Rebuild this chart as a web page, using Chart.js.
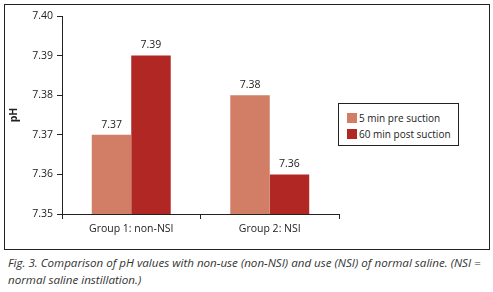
<!DOCTYPE html>
<html>
<head>
<meta charset="utf-8">
<script src="https://cdn.jsdelivr.net/npm/chart.js@4"></script>
<style>
  body{margin:0;background:#fff;width:493px;height:292px;position:relative;overflow:hidden;font-family:'Open Sans',sans-serif;}
  #frame{position:absolute;left:4px;top:4px;width:484px;height:244px;border:1px solid #222;}
  #wrap{position:absolute;left:0;top:0;width:493px;height:250px;}
  #legend{position:absolute;left:338px;top:103px;width:121px;height:43px;border:1px solid #222;background:#fff;font-size:10px;color:#222;box-sizing:border-box;padding:6px 0 0 8px;}
  #legend div{display:flex;align-items:center;height:16px;white-space:nowrap;}
  #legend span.sw{display:inline-block;width:10px;height:10px;margin-right:2px;}
  #caption{position:absolute;left:8px;top:254px;width:485px;font-style:italic;font-size:11.6px;line-height:17px;color:#333;white-space:nowrap;}
</style>
</head>
<body>
<div id="frame"></div>
<div id="wrap"><canvas id="c" width="493" height="250"></canvas></div>
<div id="legend"></div>
<div id="caption">Fig. 3. Comparison of pH values with non-use (non-NSI) and use (NSI) of normal saline. (NSI =<br>normal saline instillation.)</div>
<script>
// ---- data ----
const groups   = ['Group 1: non-NSI','Group 2: NSI'];
const preVals  = [7.37, 7.38];   // 5 min pre suction
const postVals = [7.39, 7.36];   // 60 min post suction
const yTicks   = [7.35, 7.36, 7.37, 7.38, 7.39, 7.40];

const COL_PRE  = '#d27d66';
const COL_POST = '#b02724';
const FONT = "'Open Sans', sans-serif";

const series = [
  {label:'5 min pre suction',   data:preVals,  color:COL_PRE},
  {label:'60 min post suction', data:postVals, color:COL_POST}
];

// value labels above each bar
const valueLabels = {
  id:'valueLabels',
  afterDatasetsDraw(chart){
    const ctx = chart.ctx;
    ctx.save();
    ctx.font = '10.5px '+FONT;
    ctx.fillStyle = '#222';
    ctx.textAlign = 'center';
    ctx.textBaseline = 'bottom';
    chart.data.datasets.forEach((ds,di)=>{
      chart.getDatasetMeta(di).data.forEach((bar,i)=>{
        ctx.fillText(ds.data[i].toFixed(2), bar.x, bar.y-5);
      });
    });
    ctx.restore();
  }
};

new Chart(document.getElementById('c').getContext('2d'),{
  type:'bar',
  data:{
    labels:groups,
    datasets:series.map(s=>({label:s.label,data:s.data,backgroundColor:s.color,borderWidth:0}))
  },
  options:{
    responsive:false,
    animation:false,
    layout:{padding:{left:8,top:16,right:154,bottom:0}},
    datasets:{bar:{categoryPercentage:0.57,barPercentage:1}},
    plugins:{legend:{display:false},tooltip:{enabled:false}},
    scales:{
      x:{
        grid:{display:true,drawOnChartArea:false,color:'#222',tickLength:5,offset:true},
        border:{display:true,color:'#222',width:1},
        ticks:{color:'#222',font:{family:FONT,size:10.5},padding:4},
        afterFit:s=>{ s.height = 36; }
      },
      y:{
        min:7.35, max:7.40,
        afterBuildTicks:s=>{ s.ticks = yTicks.map(v=>({value:v})); },
        grid:{display:true,drawOnChartArea:false,color:'#222',tickLength:5},
        border:{display:true,color:'#222',width:1},
        ticks:{color:'#222',font:{family:FONT,size:10.5},padding:4,callback:v=>v.toFixed(2)},
        title:{display:true,text:'pH',color:'#222',font:{family:FONT,size:10.5,weight:'bold'},padding:{top:0,bottom:4}},
        afterFit:s=>{ s.width = 54; }
      }
    }
  },
  plugins:[valueLabels]
});

// legend box
document.getElementById('legend').innerHTML = series.map(s=>
  `<div><span class="sw" style="background:${s.color}"></span>${s.label}</div>`).join('');
</script>
</body>
</html>
